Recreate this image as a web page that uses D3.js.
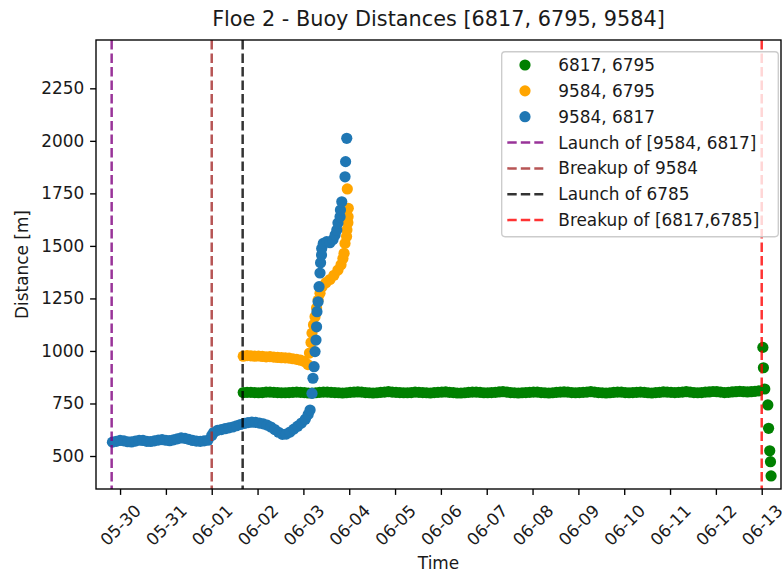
<!DOCTYPE html>
<html>
<head>
<meta charset="utf-8">
<script src="https://cdn.jsdelivr.net/npm/d3@7/dist/d3.min.js"></script>
<style>
  body { margin: 0; background: #fff; }
  svg text { font-family: "DejaVu Sans", sans-serif; fill: #1a1a1a; }
</style>
</head>
<body>
<svg id="chart" width="782" height="575"></svg>
<script>
// Hours are counted from 06-01 00:00 (UTC).
const dayZero = Date.UTC(2021, 5, 1);

const seriesNames = ["6817, 6795", "9584, 6795", "9584, 6817"];

// 6817 - 6795 distance [m]
const greenHours = [
  16.5, 18.5, 20.5, 22.5, 24.5, 26.5, 28.5, 30.5, 32.5, 34.5, 36.5, 38.5,
  40.5, 42.5, 44.5, 46.5, 48.5, 50.5, 52.5, 54.5, 56.5, 58.5, 60.5, 62.5,
  64.5, 66.5, 68.5, 70.5, 72.5, 74.5, 76.5, 78.5, 80.5, 82.5, 84.5, 86.5,
  88.5, 90.5, 92.5, 94.5, 96.5, 98.5, 100.5, 102.5, 104.5, 106.5, 108.5, 110.5,
  112.5, 114.5, 116.5, 118.5, 120.5, 122.5, 124.5, 126.5, 128.5, 130.5, 132.5, 134.5,
  136.5, 138.5, 140.5, 142.5, 144.5, 146.5, 148.5, 150.5, 152.5, 154.5, 156.5, 158.5,
  160.5, 162.5, 164.5, 166.5, 168.5, 170.5, 172.5, 174.5, 176.5, 178.5, 180.5, 182.5,
  184.5, 186.5, 188.5, 190.5, 192.5, 194.5, 196.5, 198.5, 200.5, 202.5, 204.5, 206.5,
  208.5, 210.5, 212.5, 214.5, 216.5, 218.5, 220.5, 222.5, 224.5, 226.5, 228.5, 230.5,
  232.5, 234.5, 236.5, 238.5, 240.5, 242.5, 244.5, 246.5, 248.5, 250.5, 252.5, 254.5,
  256.5, 258.5, 260.5, 262.5, 264.5, 266.5, 268.5, 270.5, 272.5, 274.5, 276.5, 278.5,
  280.5, 282.5, 284.5, 286.5,
  288.6, 288.9, 289.6, 291.2, 291.6, 292.2, 292.6, 292.9
];
const greenDist = [
  802, 803, 803, 802, 801, 802, 804, 804, 803, 802, 801, 801,
  802, 803, 804, 803, 802, 800, 800, 801, 803, 804, 804, 803,
  802, 801, 800, 801, 803, 804, 805, 804, 802, 801, 800, 801,
  803, 804, 806, 804, 803, 802, 801, 801, 802, 804, 803, 802,
  801, 800, 802, 803, 804, 805, 803, 802, 800, 800, 801, 803,
  804, 804, 803, 801, 801, 802, 803, 805, 806, 804, 802, 801,
  800, 801, 802, 803, 804, 804, 802, 801, 800, 801, 803, 804,
  805, 804, 802, 801, 802, 803, 804, 806, 804, 802, 801, 800,
  801, 803, 804, 804, 802, 801, 802, 803, 804, 803, 801, 800,
  802, 803, 805, 804, 803, 802, 803, 804, 806, 804, 802, 801,
  802, 804, 805, 807, 806, 804, 802, 803, 805, 806, 808, 806,
  805, 806, 808, 810,
  1017, 920, 819, 743, 632, 525, 473, 405
];

// 9584 - 6795 distance [m]
const orangeHours = [
  16.5, 18.5, 20.5, 22.5, 24.5, 26.5, 28.5, 30.5, 32.5, 34.5, 36.5, 38.5,
  40.5, 42.5, 44.5, 46.5, 48.5,
  50.4, 51.2, 52.0, 52.5, 53.3, 54.1, 54.9, 55.7, 56.7, 57.8, 59.8, 61.9,
  64.0, 66.1, 67.7, 68.7, 69.3, 69.8, 70.6, 70.8, 71.3, 71.4, 71.5, 71.0
];
const orangeDist = [
  975, 978, 977, 975, 976, 974, 972, 973, 971, 969, 968, 967,
  966, 963, 960, 956, 950,
  935, 990, 1040, 1085, 1125, 1163, 1205, 1242, 1275, 1306, 1325, 1340,
  1360, 1385, 1410, 1440, 1465, 1512, 1545, 1576, 1610, 1639, 1679, 1771
];

// 9584 - 6817 distance [m]
const blueHours = [
  -52, -50, -48, -46, -44, -42, -40, -38, -36, -34, -32, -30, -28, -26, -24, -22, -20,
  -18, -16, -14, -12, -10, -8, -6, -4, -2,
  0, 1, 3, 5, 7, 9, 11, 13, 15, 17, 19, 21, 23, 25, 27, 29, 31, 33, 35, 37, 39,
  41, 43, 45, 47, 49, 50.5, 51.5,
  52.5, 53.0, 53.6, 54.1, 54.6, 54.9, 55.1, 55.7, 56.2, 56.7, 57.0, 57.5, 57.6, 58.4,
  60.2, 61.9, 63.5, 64.6, 65.5, 66.1, 67.2, 67.4, 68.1, 69.8, 70.1, 70.7
];
const blueDist = [
  566, 570, 574, 572, 568, 567, 571, 575, 574, 570, 569, 572, 576, 578, 575, 573, 577,
  582, 586, 584, 579, 574, 571, 570, 572, 575,
  598, 612, 622, 626, 630, 634, 638, 644, 650, 655, 659, 661, 660, 657, 653, 647, 638, 626, 613, 603, 604,
  614, 628, 642, 657, 675, 698, 719,
  798, 870, 925, 997, 1052, 1115, 1187, 1234, 1306, 1371, 1420, 1457, 1488, 1512,
  1520, 1515, 1530, 1552, 1576, 1609, 1639, 1671, 1710, 1829, 1901, 2012
];

// Deployment events
const eventNames = ["Launch of [9584, 6817]", "Breakup of 9584", "Launch of 6785", "Breakup of [6817,6785]"];
const eventHours = [-52.4, 0, 16.2, 288];

const yTicks = [500, 750, 1000, 1250, 1500, 1750, 2000, 2250];
const xRangeHours = [-60.6, 298.1];
const yRange = [343, 2480];

// ---- styling ----
const seriesColors = ["#008000", "#ffa500", "#1f77b4"];
const eventColors = ["#800080", "#a52a2a", "#000000", "#ff0000"];
const fontSize = 16.9;
const margin = { left: 96, right: 781, top: 40, bottom: 489 };
const dotR = 5.6;

const toDate = h => new Date(dayZero + h * 3600e3);

const svg = d3.select("#chart");
const x = d3.scaleUtc().domain(xRangeHours.map(toDate)).range([margin.left, margin.right]);
const y = d3.scaleLinear().domain(yRange).range([margin.bottom, margin.top]);

svg.append("rect").attr("width", 782).attr("height", 575).attr("fill", "#fff");

svg.append("clipPath").attr("id", "plotClip").append("rect")
  .attr("x", margin.left).attr("y", margin.top)
  .attr("width", margin.right - margin.left).attr("height", margin.bottom - margin.top);

const plot = svg.append("g").attr("clip-path", "url(#plotClip)");

const seriesData = [
  greenHours.map((h, i) => ({ h, v: greenDist[i] })),
  orangeHours.map((h, i) => ({ h, v: orangeDist[i] })),
  blueHours.map((h, i) => ({ h, v: blueDist[i] }))
];

seriesData.forEach((pts, k) => {
  plot.append("g").selectAll("circle").data(pts).join("circle")
    .attr("cx", d => x(toDate(d.h)))
    .attr("cy", d => y(d.v))
    .attr("r", dotR)
    .attr("fill", seriesColors[k]);
});

// event markers
eventHours.forEach((h, i) => {
  plot.append("line")
    .attr("x1", x(toDate(h))).attr("x2", x(toDate(h)))
    .attr("y1", margin.top).attr("y2", margin.bottom)
    .attr("stroke", eventColors[i]).attr("stroke-opacity", 0.8)
    .attr("stroke-width", 2.5).attr("stroke-dasharray", "9.4,4.1");
});

// axes
const xAxis = d3.axisBottom(x).ticks(d3.utcDay.every(1)).tickFormat(d3.utcFormat("%m-%d"))
  .tickSize(5.9).tickPadding(5.9);
const gx = svg.append("g").attr("transform", `translate(0,${margin.bottom})`).call(xAxis);
gx.select(".domain").remove();
gx.selectAll(".tick line").attr("stroke", "#000").attr("stroke-width", 1.36);
gx.selectAll(".tick text").each(function () {
  const t = d3.select(this);
  t.attr("font-size", fontSize).attr("fill", "#1a1a1a");
  const w = this.getComputedTextLength();
  const hh = fontSize * 1.164;
  const box = (w + hh) * Math.SQRT1_2;
  t.attr("text-anchor", "middle").attr("dy", null).attr("y", null)
    .attr("dominant-baseline", "central")
    .attr("transform", `translate(0,${5.9 + 5.9 + box / 2}) rotate(-45)`);
});

const yAxis = d3.axisLeft(y).tickValues(yTicks).tickFormat(d3.format("d"))
  .tickSize(5.9).tickPadding(5.9);
const gy = svg.append("g").attr("transform", `translate(${margin.left},0)`).call(yAxis);
gy.select(".domain").remove();
gy.selectAll(".tick line").attr("stroke", "#000").attr("stroke-width", 1.36);
gy.selectAll(".tick text").attr("font-size", fontSize).attr("fill", "#1a1a1a");

// frame
svg.append("rect")
  .attr("x", margin.left).attr("y", margin.top)
  .attr("width", margin.right - margin.left).attr("height", margin.bottom - margin.top)
  .attr("fill", "none").attr("stroke", "#000").attr("stroke-width", 1.36);

// labels
const cx = (margin.left + margin.right) / 2;
svg.append("text").attr("x", cx).attr("y", 26).attr("text-anchor", "middle")
  .attr("font-size", 20.8).text("Floe 2 - Buoy Distances [6817, 6795, 9584]");
svg.append("text").attr("x", cx).attr("y", 569).attr("text-anchor", "middle")
  .attr("font-size", fontSize).text("Time");
svg.append("text")
  .attr("transform", `translate(22,${(margin.top + margin.bottom) / 2}) rotate(-90)`)
  .attr("text-anchor", "middle").attr("dominant-baseline", "central")
  .attr("font-size", fontSize).text("Distance [m]");

// legend
const lg = svg.append("g");
lg.append("rect").attr("x", 501.7).attr("y", 51.7).attr("width", 276.6).attr("height", 185)
  .attr("rx", 3.4).attr("fill", "#fff").attr("fill-opacity", 0.8)
  .attr("stroke", "#cccccc").attr("stroke-width", 1.36);
const rowY = i => 65 + i * 25.85;
seriesNames.forEach((name, i) => {
  lg.append("circle").attr("cx", 525).attr("cy", rowY(i)).attr("r", dotR).attr("fill", seriesColors[i]);
  lg.append("text").attr("x", 558.3).attr("y", rowY(i)).attr("dominant-baseline", "central")
    .attr("font-size", fontSize).text(name);
});
eventNames.forEach((name, j) => {
  const i = j + seriesNames.length;
  lg.append("line").attr("x1", 507.3).attr("x2", 543.3).attr("y1", rowY(i)).attr("y2", rowY(i))
    .attr("stroke", eventColors[j]).attr("stroke-opacity", 0.8)
    .attr("stroke-width", 2.5).attr("stroke-dasharray", "9.4,4.1");
  lg.append("text").attr("x", 558.3).attr("y", rowY(i)).attr("dominant-baseline", "central")
    .attr("font-size", fontSize).text(name);
});
</script>
</body>
</html>
